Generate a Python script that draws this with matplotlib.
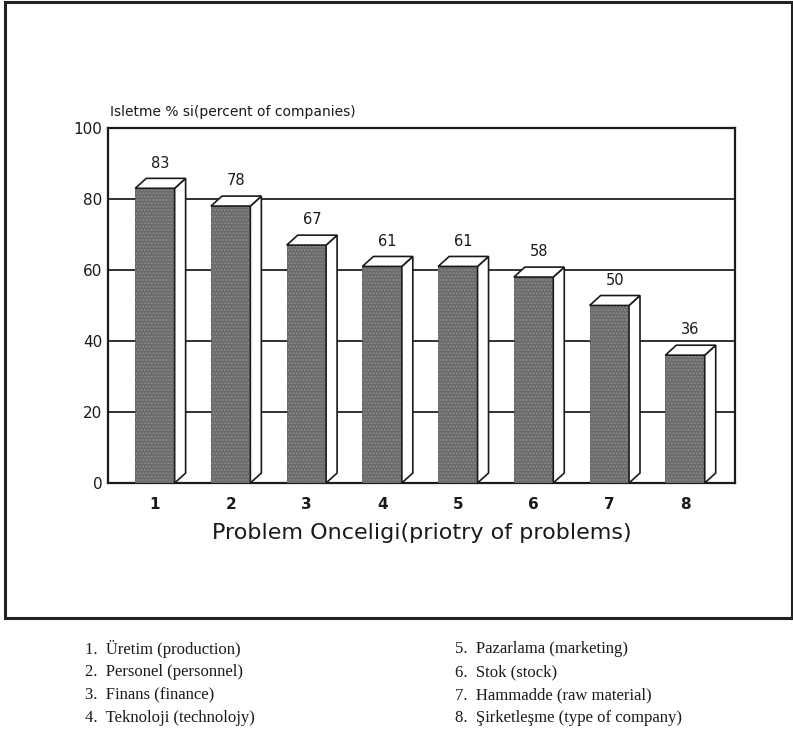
import numpy as np
import matplotlib
matplotlib.use('Agg')
import matplotlib.pyplot as plt
from matplotlib.patches import Polygon, Rectangle

# data
priority = [1, 2, 3, 4, 5, 6, 7, 8]
percent = [83, 78, 67, 61, 61, 58, 50, 36]
ytick_vals = [0, 20, 40, 60, 80, 100]
legend_left = ['Üretim (production)', 'Personel (personnel)',
               'Finans (finance)', 'Teknoloji (technolojy)']
legend_right = ['Pazarlama (marketing)', 'Stok (stock)',
                'Hammadde (raw material)', 'Şirketleşme (type of company)']

bar_w = 0.52
dx = 0.145   # depth offset along x (category units)
dy = 2.8     # depth offset along y (percent units)

plt.rcParams['hatch.linewidth'] = 0.8

fig = plt.figure(figsize=(7.93, 7.34), dpi=100, facecolor='white')

# outer frame of the scanned figure
fig.patches.append(Rectangle((0.006, 0.158), 0.993, 0.839, transform=fig.transFigure,
                             fill=False, edgecolor='#222222', linewidth=2.2))

ax = fig.add_axes([0.1362, 0.342, 0.7907, 0.4837])

for g in ytick_vals[1:-1]:
    ax.axhline(g, color='#222222', linewidth=1.3, zorder=1)

x = np.array(priority)
ax.bar(x, percent, width=bar_w, color='#6c6c6c', edgecolor='#555555',
       linewidth=0.6, zorder=3)
# stippled texture of the front faces
ax.bar(x, percent, width=bar_w, fill=False, hatch='.....', edgecolor='#8c8c8c',
       linewidth=0, zorder=3.5)

for xi, h in zip(x, percent):
    x0 = xi - bar_w / 2
    x1 = xi + bar_w / 2
    top = Polygon([(x0, h), (x0 + dx, h + dy), (x1 + dx, h + dy), (x1, h)],
                  closed=True, facecolor='white', edgecolor='#1a1a1a', linewidth=1.2, zorder=4)
    side = Polygon([(x1, 0), (x1, h), (x1 + dx, h + dy), (x1 + dx, dy)],
                   closed=True, facecolor='white', edgecolor='#1a1a1a', linewidth=1.2, zorder=4)
    ax.add_patch(side)
    ax.add_patch(top)
    ax.text(xi + dx / 2, h + dy + 2.2, str(h), ha='center', va='bottom',
            fontsize=10.5, color='#1a1a1a', zorder=5)

ax.set_xlim(0.38, 8.66)
ax.set_ylim(0, 100)
ax.set_yticks(ytick_vals)
ax.set_yticklabels([str(v) for v in ytick_vals], fontsize=11, color='#1a1a1a')
ax.set_xticks(priority)
ax.set_xticklabels([str(p) for p in priority], fontsize=11, fontweight='bold', color='#1a1a1a')
ax.tick_params(axis='y', length=0, pad=4)
ax.tick_params(axis='x', length=0, pad=10)
for s in ax.spines.values():
    s.set_linewidth(1.6)
    s.set_color('#1a1a1a')

ax.text(0.003, 1.025, 'Isletme % si(percent of companies)', transform=ax.transAxes,
        fontsize=10, color='#1a1a1a', ha='left', va='bottom')
ax.set_xlabel('Problem Onceligi(priotry of problems)', fontsize=16, color='#1a1a1a',
              labelpad=8)

# legend of problem names under the frame
row_y = [0.116, 0.084, 0.053, 0.022]
for i, (name, yy) in enumerate(zip(legend_left, row_y)):
    fig.text(0.107, yy, f'{i + 1}.  {name}', family='Liberation Serif', fontsize=12,
             color='#1a1a1a', va='center')
for i, (name, yy) in enumerate(zip(legend_right, row_y)):
    fig.text(0.574, yy, f'{i + 5}.  {name}', family='Liberation Serif', fontsize=12,
             color='#1a1a1a', va='center')

fig.savefig('out.png', dpi=100, facecolor='white')
